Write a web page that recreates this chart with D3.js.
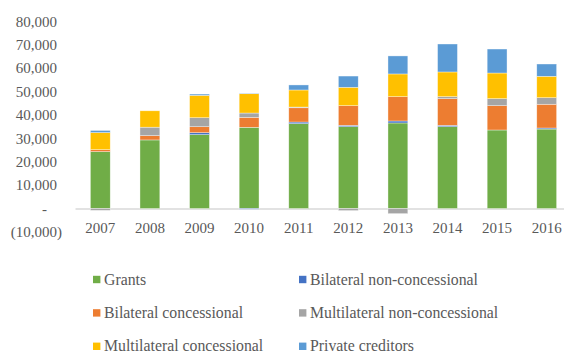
<!DOCTYPE html>
<html>
<head>
<meta charset="utf-8">
<script src="https://cdn.jsdelivr.net/npm/d3@7"></script>
<style>
  html, body { margin: 0; padding: 0; background: #fff; }
  svg { display: block; }
  svg text { font-family: "Liberation Serif", "Times New Roman", serif; fill: #595959; }
</style>
</head>
<body>
<svg id="chart" width="564" height="354"></svg>
<script>
// Annual financing flows by source (stacked, negatives drawn below zero)
const years = ["2007","2008","2009","2010","2011","2012","2013","2014","2015","2016"];
const grants                  = [24300, 29300, 31550, 34700, 36250, 34950, 36550, 34950, 33550, 33950];
const bilateralNonConc        = [0,     0,     850,   -300,  700,   600,   850,   600,   0,     450];
const bilateralConc           = [850,   1850,  2550,  4250,  6100,  8400,  10400, 11400, 10400, 10150];
const multilateralNonConc     = [-800,  3600,  3850,  1850,  300,   -900,  -2200, 850,   3000,  2800];
const multilateralConc        = [7300,  7000,  9550,  8250,  7300,  7850,  9700,  10550, 10950, 9150];
const privateCreditors        = [900,   0,     550,   250,   2150,  4800,  7700,  11950, 10250, 5250];

const seriesNames = ["Grants", "Bilateral non-concessional", "Bilateral concessional",
                     "Multilateral non-concessional", "Multilateral concessional", "Private creditors"];
const seriesValues = [grants, bilateralNonConc, bilateralConc, multilateralNonConc, multilateralConc, privateCreditors];
const colors = ["#70ad47", "#4472c4", "#ed7d31", "#a5a5a5", "#ffc000", "#5b9bd5"];
const yTicks = [-10000, 0, 10000, 20000, 30000, 40000, 50000, 60000, 70000, 80000];

const rows = years.map((yr, i) => {
  const r = { year: yr };
  seriesNames.forEach((n, k) => { r[n] = seriesValues[k][i]; });
  return r;
});

const svg = d3.select("#chart");
const serif = "'Liberation Serif', 'Times New Roman', serif";

const x = d3.scaleBand().domain(years).range([75.5, 571.5]).paddingInner(0.6).paddingOuter(0.3);
const y = d3.scaleLinear().domain([-10000, 80000]).range([231.9, 21.3]);

const stack = d3.stack().keys(seriesNames).offset(d3.stackOffsetDiverging);
const layers = stack(rows);

// zero baseline
svg.append("line")
  .attr("x1", 75.5).attr("x2", 571.5)
  .attr("y1", y(0) + 0.5).attr("y2", y(0) + 0.5)
  .attr("stroke", "#d9d9d9").attr("stroke-width", 1.5);

// stacked bars
svg.append("g").selectAll("g")
  .data(layers).join("g")
  .attr("fill", (d, i) => colors[i])
  .selectAll("rect")
  .data(d => d.filter(s => s[1] !== s[0]))
  .join("rect")
  .attr("x", d => x(d.data.year))
  .attr("width", x.bandwidth())
  .attr("y", d => y(Math.max(d[0], d[1])))
  .attr("height", d => Math.abs(y(d[0]) - y(d[1])))
  .attr("stroke", "#ffffff").attr("stroke-width", 0.6).attr("stroke-opacity", 0.6);

// y axis labels in accounting style
const fmt = d3.format(",");
const yAxis = d3.axisLeft(y).tickValues(yTicks).tickSize(0).tickPadding(0)
  .tickFormat(v => v === 0 ? "-" : v < 0 ? "(" + fmt(-v) + ")" : fmt(v));
const gy = svg.append("g").attr("transform", "translate(57,0)").call(yAxis);
gy.attr("font-family", null).attr("font-size", null);
gy.select(".domain").remove();
gy.selectAll("text")
  .style("font-family", serif).style("font-size", "15px").style("fill", "#595959")
  .attr("dx", v => v === 0 ? -10 : v < 0 ? 5 : 0);

// x axis labels
const xAxis = d3.axisBottom(x).tickSize(0).tickPadding(0);
const gx = svg.append("g").attr("transform", "translate(0,222)").call(xAxis);
gx.attr("font-family", null).attr("font-size", null);
gx.select(".domain").remove();
gx.selectAll("text")
  .style("font-family", serif).style("font-size", "15px").style("fill", "#595959");

// legend, two columns by three rows
const legend = svg.append("g").selectAll("g")
  .data(seriesNames).join("g")
  .attr("transform", (d, i) => `translate(${i % 2 === 0 ? 93 : 299},${279.5 + Math.floor(i / 2) * 33.4})`);
legend.append("rect")
  .attr("x", 0).attr("y", -3.7).attr("width", 7.4).attr("height", 7.4)
  .attr("fill", (d, i) => colors[i]);
legend.append("text")
  .attr("x", 11).attr("y", 5)
  .style("font-family", serif).style("font-size", "15.8px")
  .text(d => d);
</script>
</body>
</html>
